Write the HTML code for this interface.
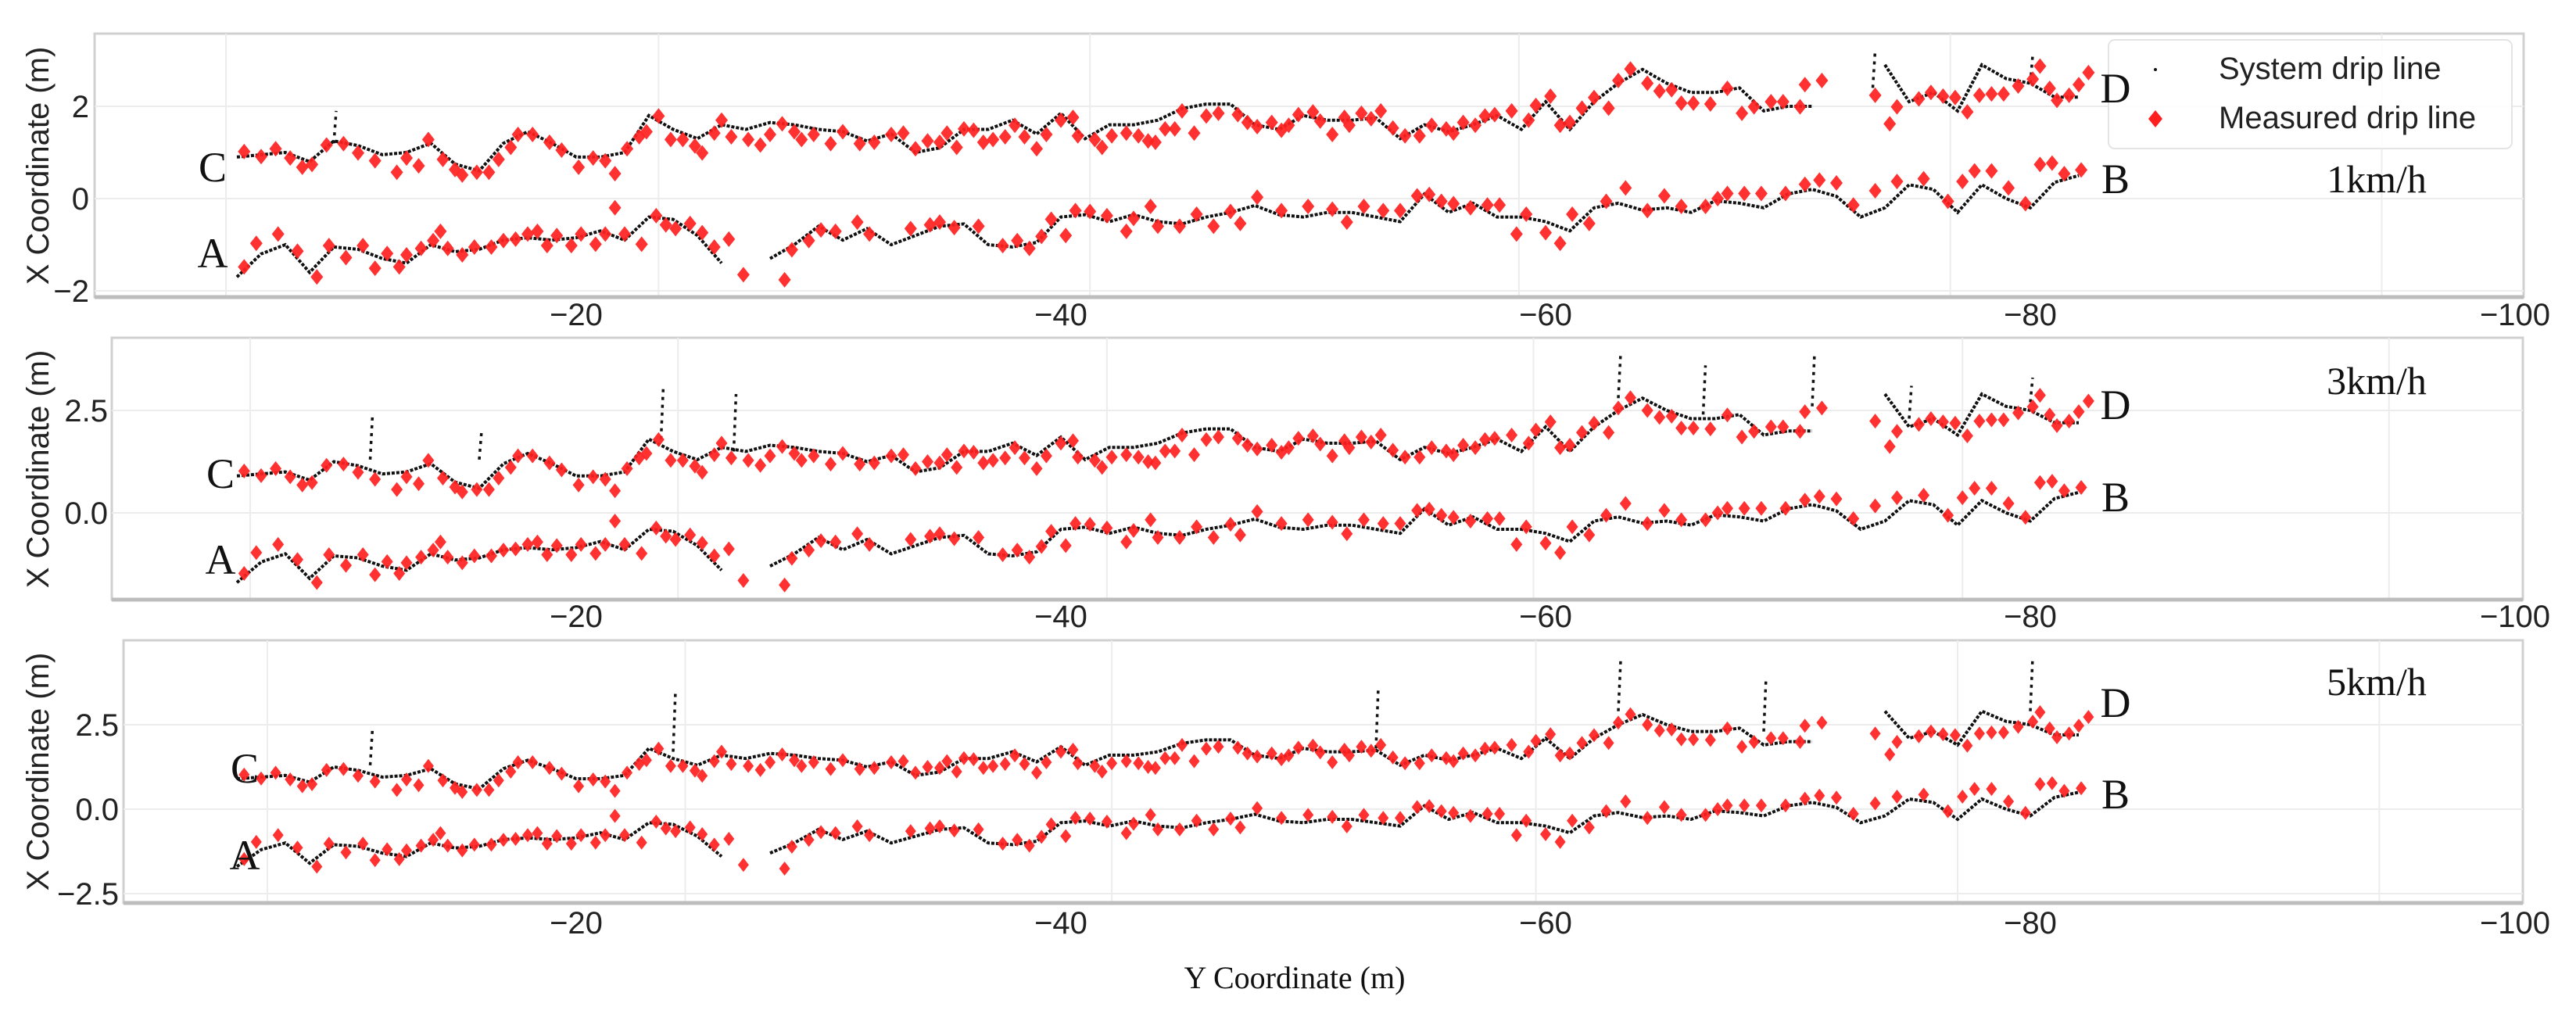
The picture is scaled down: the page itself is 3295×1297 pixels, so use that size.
<!DOCTYPE html>
<html><head><meta charset="utf-8"><style>
html,body{margin:0;padding:0;background:#fff}
svg{display:block}
.tick{font-family:"Liberation Sans",sans-serif;font-size:40px;fill:#222}
.ser{font-family:"Liberation Serif",serif;fill:#111}
</style></head><body>
<svg id="chart" width="3295" height="1297" viewBox="0 0 3295 1297" xmlns="http://www.w3.org/2000/svg"></svg>
<script>
// ---- data (Y coordinate m, X coordinate m) ----
const upperM = [-6.3,-7.0,-7.6,-8.2,-8.7,-9.1,-9.7,-10.4,-11.0,-11.7,-12.6,-13.0,-13.5,-13.9,-14.5,-15.0,-15.3,-15.9,-16.4,-16.8,-17.3,-17.6,-18.2,-18.9,-19.4,-20.1,-20.7,-21.2,-21.6,-22.1,-22.6,-22.9,-23.4,-23.9,-24.4,-24.9,-25.2,-25.7,-26.0,-26.4,-27.1,-27.6,-28.0,-28.5,-29.0,-29.3,-29.8,-30.5,-31.0,-31.7,-32.3,-33.0,-33.5,-34.0,-34.5,-35.0,-35.3,-35.7,-36.0,-36.4,-36.8,-37.2,-37.7,-38.1,-38.5,-39.0,-39.4,-40.0,-40.5,-40.7,-41.4,-41.7,-42.1,-42.7,-43.2,-43.6,-43.9,-44.3,-44.7,-45.0,-45.5,-46.0,-46.5,-47.3,-47.7,-48.1,-48.7,-49.1,-49.4,-49.8,-50.4,-50.7,-51.2,-51.7,-51.9,-52.4,-52.8,-53.2,-53.7,-54.2,-54.8,-55.3,-55.9,-56.2,-56.6,-57.1,-57.5,-57.9,-58.6,-59.3,-59.6,-60.2,-60.6,-61.0,-61.5,-62.0,-62.6,-63.0,-63.5,-64.2,-64.7,-65.2,-65.6,-66.1,-66.8,-67.5,-68.1,-68.6,-69.3,-69.8,-70.5,-70.7,-71.4,-73.6,-74.2,-74.5,-75.4,-75.9,-76.4,-76.9,-77.4,-77.9,-78.4,-78.9,-79.5,-80.1,-80.4,-80.8,-81.1,-81.6,-82.0,-82.4];
const upperV = [1.02,0.91,1.08,0.88,0.68,0.74,1.16,1.19,0.99,0.82,0.57,0.88,0.71,1.28,0.85,0.63,0.51,0.57,0.57,0.85,1.11,1.39,1.39,1.22,1.05,0.68,0.88,0.82,0.54,1.08,1.34,1.45,1.79,1.28,1.28,1.14,0.99,1.42,1.70,1.34,1.28,1.16,1.39,1.62,1.45,1.28,1.39,1.19,1.45,1.19,1.22,1.39,1.42,1.08,1.25,1.22,1.42,1.11,1.51,1.48,1.22,1.28,1.34,1.59,1.34,1.08,1.39,1.70,1.76,1.36,1.28,1.11,1.36,1.42,1.36,1.25,1.22,1.51,1.51,1.90,1.42,1.79,1.85,1.82,1.65,1.56,1.65,1.48,1.59,1.82,1.88,1.68,1.39,1.76,1.59,1.85,1.73,1.90,1.53,1.36,1.36,1.59,1.51,1.42,1.65,1.59,1.79,1.82,1.90,1.70,2.02,2.22,1.59,1.65,1.96,2.19,1.96,2.56,2.81,2.50,2.33,2.36,2.07,2.07,2.05,2.39,1.85,1.99,2.10,2.10,1.99,2.47,2.56,2.24,1.62,1.99,2.16,2.30,2.22,2.19,1.88,2.24,2.27,2.27,2.44,2.59,2.87,2.39,2.13,2.24,2.47,2.73];
const lowerM = [-6.3,-6.8,-7.7,-8.5,-9.3,-9.8,-10.5,-11.2,-11.7,-12.2,-12.7,-13.0,-13.6,-14.1,-14.4,-14.7,-15.3,-15.8,-16.5,-17.0,-17.5,-18.0,-18.4,-18.8,-19.2,-19.8,-20.2,-20.8,-21.2,-21.6,-22.0,-22.7,-23.3,-23.7,-24.1,-24.7,-25.2,-25.7,-26.3,-26.9,-28.6,-28.9,-29.6,-30.1,-30.7,-31.6,-32.1,-33.8,-34.6,-35.0,-35.6,-36.6,-37.6,-38.2,-38.7,-39.2,-39.6,-40.2,-40.6,-41.2,-41.9,-42.7,-43.0,-43.7,-44.0,-44.9,-45.6,-46.3,-47.0,-47.4,-48.1,-49.1,-50.2,-51.2,-51.8,-52.5,-53.3,-54.0,-54.7,-55.2,-55.7,-56.2,-56.9,-57.6,-58.1,-58.8,-59.2,-60.0,-60.6,-61.1,-61.8,-62.5,-63.3,-64.2,-64.9,-65.6,-66.6,-67.1,-67.5,-68.2,-68.9,-69.9,-70.7,-71.3,-72.0,-72.7,-73.6,-74.5,-75.6,-76.6,-77.2,-77.7,-78.4,-79.1,-79.8,-80.4,-80.9,-81.4,-82.1];
const lowerV = [-1.48,-0.97,-0.77,-1.14,-1.70,-1.02,-1.28,-1.02,-1.51,-1.19,-1.48,-1.22,-1.08,-0.91,-0.71,-1.08,-1.22,-1.05,-1.05,-0.91,-0.88,-0.77,-0.71,-1.02,-0.80,-1.02,-0.77,-0.99,-0.77,-0.20,-0.77,-0.99,-0.37,-0.57,-0.65,-0.54,-0.74,-1.05,-0.88,-1.65,-1.76,-1.11,-0.91,-0.68,-0.71,-0.51,-0.77,-0.65,-0.57,-0.51,-0.63,-0.60,-1.02,-0.91,-1.08,-0.82,-0.45,-0.80,-0.26,-0.28,-0.37,-0.71,-0.43,-0.17,-0.60,-0.60,-0.34,-0.60,-0.28,-0.54,0.03,-0.26,-0.17,-0.23,-0.51,-0.17,-0.26,-0.26,0.06,0.09,-0.06,-0.11,-0.20,-0.14,-0.14,-0.77,-0.34,-0.74,-0.97,-0.34,-0.54,-0.06,0.23,-0.26,0.06,-0.17,-0.17,0.00,0.11,0.11,0.11,0.11,0.31,0.40,0.34,-0.14,0.17,0.37,0.43,-0.06,0.37,0.60,0.60,0.23,-0.11,0.74,0.77,0.54,0.62];
const sysM = [-6,-7,-8,-9,-10,-11,-12,-13,-14,-15,-16,-17,-18,-19,-20,-21,-22,-23,-24,-25,-26,-27,-28,-29,-30,-31,-32,-33,-34,-35,-36,-37,-38,-39,-40,-41,-42,-43,-44,-45,-46,-47,-48,-49,-50,-51,-52,-53,-54,-55,-56,-57,-58,-59,-60,-61,-62,-63,-64,-65,-66,-67,-68,-69,-70,-71,-72,-73,-74,-75,-76,-77,-78,-79,-80,-81,-82];
const sysUpper = [0.9,0.95,1.0,0.8,1.25,1.15,0.95,1.0,1.2,0.75,0.6,1.2,1.45,1.2,0.9,0.9,1.0,1.8,1.5,1.3,1.6,1.5,1.65,1.6,1.5,1.45,1.25,1.4,1.0,1.1,1.5,1.5,1.7,1.4,1.85,1.3,1.6,1.6,1.7,1.95,2.05,2.05,1.6,1.5,1.8,1.7,1.7,1.75,1.3,1.6,1.45,1.6,1.8,1.5,2.1,1.5,2.1,2.5,2.8,2.5,2.3,2.3,2.4,1.9,2.0,2.0,null,null,2.9,2.1,2.3,1.9,2.9,2.6,2.5,2.2,2.2];
const sysLower = [-1.7,-1.2,-1.0,-1.6,-1.05,-1.1,-1.3,-1.4,-1.0,-1.15,-1.1,-0.9,-0.85,-0.9,-0.85,-0.7,-0.9,-0.4,-0.45,-0.8,-1.4,null,-1.3,-1.0,-0.6,-0.9,-0.65,-1.0,-0.8,-0.6,-0.55,-1.0,-1.05,-0.95,-0.4,-0.35,-0.5,-0.35,-0.5,-0.55,-0.4,-0.3,-0.15,-0.35,-0.4,-0.3,-0.3,-0.4,-0.5,0.1,-0.3,-0.1,-0.4,-0.4,-0.5,-0.7,-0.2,-0.1,-0.25,-0.2,-0.3,-0.05,-0.1,-0.2,0.1,0.2,0.05,-0.4,-0.2,0.3,0.2,-0.3,0.3,0.0,-0.2,0.35,0.5];
const spikeM = [[-10,-73.5,-80],[-11.5,-16,-23.5,-26.5,-63,-66.5,-71,-75,-80],[-11.5,-24,-53,-63,-69,-80]];
const spikeBase = [[1.2,2.4,2.5],[1.3,1.3,1.8,1.5,2.8,2.4,2.6,2.3,2.7],[1.3,1.7,1.8,2.9,2.3,2.9]];
const spikeTop = [[1.9,3.2,3.1],[2.4,2.0,3.1,2.9,3.9,3.6,3.9,3.1,3.3],[2.4,3.5,3.6,4.4,3.9,4.5]];
const xTickVals = [-20,-40,-60,-80,-100];
const speedLabels = ["1km/h","3km/h","5km/h"];
const yTicks = [[2,0,-2],[2.5,0.0],[2.5,0.0,-2.5]];
const yTickText = [["2","0","\u22122"],["2.5","0.0"],["2.5","0.0","\u22122.5"]];
const gridM = [[-5.55,-23.4,-41.2,-58.9,-76.7,-94.5],[-6.55,-24.2,-41.9,-59.5,-77.2,-94.8],[-7.26,-24.5,-42.1,-59.6,-77.0,-94.4]];

// ---- layout ----
const panels = [
 {l:121,r:3228,t:43,b:380,y0:254,k:59,tickY:416,tickR:114,titleY:212,labC:213,labA:323,labD:112,labB:228,labX:272,speedY:229,dw:16,dh:20},
 {l:143,r:3227,t:432,b:767,y0:656,k:52.4,tickY:802,tickR:138,titleY:600,labC:605,labA:715,labD:517,labB:635,labX:282,speedY:487,dw:15,dh:19},
 {l:158,r:3227,t:819,b:1155,y0:1035,k:43.2,tickY:1194,tickR:152,titleY:987,labC:982,labA:1093,labD:898,labB:1015,labX:313,speedY:872,dw:14,dh:18}
];
const X = m => 117 + 31.0*(-m);
const NS = "http://www.w3.org/2000/svg";
const svg = document.getElementById('chart');
function mk(tag, attrs, parent){const e=document.createElementNS(NS,tag);for(const k in attrs)e.setAttribute(k,attrs[k]);(parent||svg).appendChild(e);return e;}

const plotLayer = mk('g',{});


const legendLayer = mk('g',{});


const labelLayer = mk('g',{});



panels.forEach((p,i)=>{
  const Y = v => p.y0 - p.k*v;
  const g = mk('g',{},plotLayer);
  
  
  const frame = mk('rect',{x:p.l,y:p.t,width:p.r-p.l,height:p.b-p.t,fill:'#fff',stroke:'#d0d0d0','stroke-width':3},g);
  
  
  gridM[i].forEach(m=>{
    const gl=mk('line',{x1:X(m),x2:X(m),y1:p.t,y2:p.b,stroke:'#ececec','stroke-width':2},g);
    
    
  });
  yTicks[i].forEach((v,j)=>{
    const gl=mk('line',{x1:p.l,x2:p.r,y1:Y(v),y2:Y(v),stroke:'#ececec','stroke-width':2},g);
    
    
    const t=mk('text',{x:p.tickR,y:Y(v)+14,'text-anchor':'end',class:'tick'},g);
    t.textContent=yTickText[i][j];
    
    
  });
  const bl=mk('line',{x1:p.l,x2:p.r,y1:p.b,y2:p.b,stroke:'#bdbdbd','stroke-width':5},g);
  
  
  xTickVals.forEach(v=>{
    const t=mk('text',{x:X(v),y:p.tickY,'text-anchor':'middle',class:'tick'},g);
    t.textContent='\u2212'+Math.abs(v);
    
    
  });
  const yt=mk('text',{x:0,y:0,'text-anchor':'middle',class:'tick',transform:`translate(62,${p.titleY}) rotate(-90)`,'font-size':'39'},g);
  yt.textContent='X Coordinate (m)';
  
  

  // system drip line (black dots)
  [sysUpper,sysLower].forEach((arr,si)=>{
    let d='';let pen=false;
    sysM.forEach((m,k)=>{const v=arr[k]; if(v===null){pen=false;return;} d+=(pen?'L':'M')+X(m).toFixed(1)+' '+Y(v).toFixed(1)+' '; pen=true;});
    const s=mk('path',{d:d,fill:'none',stroke:'#111','stroke-width':4,'stroke-dasharray':'4 2'},g);
    
    
  });
  spikeM[i].forEach((m,k)=>{
    const s=mk('line',{x1:X(m),x2:X(m)+3,y1:Y(spikeBase[i][k]),y2:Y(spikeTop[i][k]),stroke:'#111','stroke-width':3.5,'stroke-dasharray':'4 6'},g);
    
    
  });
  // measured drip line (red diamonds)
  [[upperM,upperV],[lowerM,lowerV]].forEach(([ms,vs],si)=>{
    ms.forEach((m,k)=>{
      const cx=X(m), cy=Y(vs[k]);
      const d=mk('polygon',{points:`${cx},${cy-p.dh/2} ${cx+p.dw/2},${cy} ${cx},${cy+p.dh/2} ${cx-p.dw/2},${cy}`,fill:'#ff1f1f','fill-opacity':0.92},g);
      
      
    });
  });
  [['C',p.labX,p.labC],['A',p.labX,p.labA],['D',2706,p.labD],['B',2706,p.labB]].forEach(([s,x,y])=>{
    const t=mk('text',{x:x,y:y+19,'text-anchor':'middle',class:'ser','font-size':54},labelLayer);
    t.textContent=s;
    
    
  });
  const sp=mk('text',{x:3040,y:p.speedY+17,'text-anchor':'middle',class:'ser','font-size':50},labelLayer);
  sp.textContent=speedLabels[i];
  
  
});

// legend
mk('rect',{x:2697,y:51,width:516,height:139,rx:8,fill:'#fff','fill-opacity':0.9,stroke:'#e4e4e4','stroke-width':2},legendLayer);
const ld=mk('circle',{cx:2757,cy:89,r:2,fill:'#111'},legendLayer);


const lt1=mk('text',{x:2838,y:101,class:'tick','font-size':42},legendLayer);
lt1.textContent='System drip line';


const lr=mk('polygon',{points:'2757,141 2766,152 2757,163 2748,152',fill:'#ff1f1f'},legendLayer);


const lt2=mk('text',{x:2838,y:164,class:'tick','font-size':42},legendLayer);
lt2.textContent='Measured drip line';



const xt=mk('text',{x:1656,y:1264,'text-anchor':'middle',class:'ser','font-size':40});
xt.textContent='Y Coordinate (m)';


</script>
</body></html>
